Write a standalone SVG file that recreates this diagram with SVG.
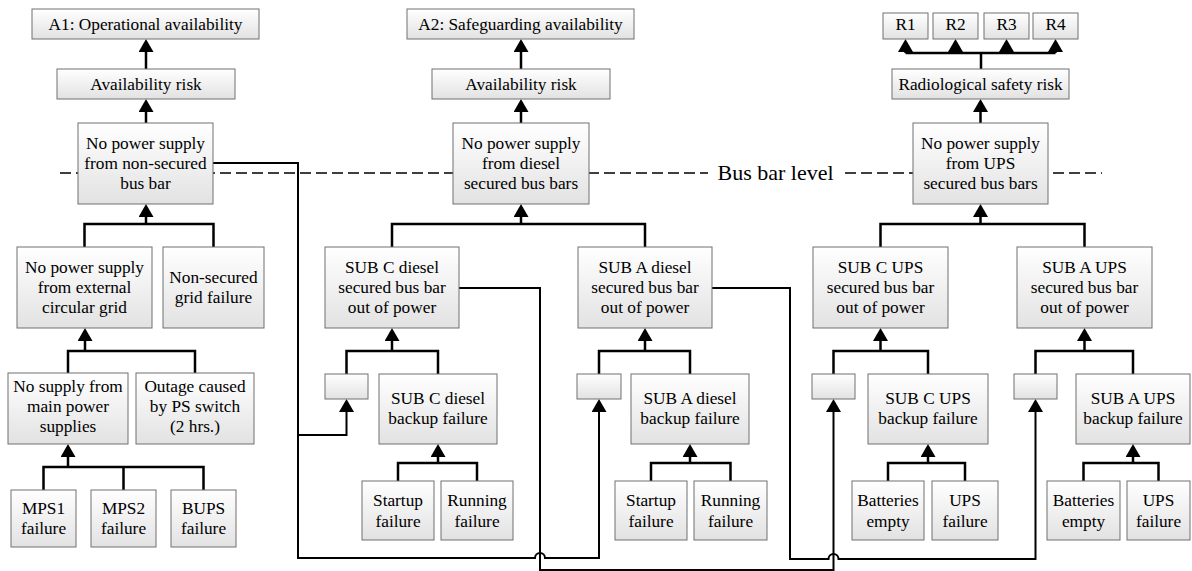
<svg xmlns="http://www.w3.org/2000/svg" width="1192" height="571" viewBox="0 0 1192 571">
<style>
.b{fill:url(#g);stroke:#707070;stroke-width:1}
text{font-family:'Liberation Serif','Times New Roman',serif;font-size:17.3px;fill:#000;text-anchor:middle}
.t{fill:none;stroke:#000;stroke-width:2.5}
.a{fill:none;stroke:#000;stroke-width:2.5;marker-end:url(#arr)}
.ar{fill:none;stroke:#000;stroke-width:2;marker-end:url(#arr)}
.d{fill:none;stroke:#000;stroke-width:1.5;stroke-dasharray:11 5}
</style>
<defs>
<linearGradient id="g" x1="0" y1="0" x2="0" y2="1">
<stop offset="0" stop-color="#ffffff"/>
<stop offset="1" stop-color="#e2e2e2"/>
</linearGradient>
<marker id="arr" viewBox="0 0 13 15" refX="7" refY="7.5" markerWidth="13" markerHeight="15" markerUnits="userSpaceOnUse" orient="auto">
<path d="M0,0L13,7.5L0,15z" fill="#000"/>
</marker>
</defs>
<rect width="1192" height="571" fill="#fff"/>
<g id="buslevel">
<path class="d" d="M60,173H708M845,173H1102"/>
<text x="775.5" y="180" style="font-size:22px">Bus bar level</text>
</g>
<g id="connectors">
<path class="a" d="M146,69V45"/>
<path class="a" d="M146,123V105"/>
<path class="t" d="M84.5,247V224H213.5V247"/>
<path class="a" d="M146,224V210"/>
<path class="t" d="M68,373V351H195V373"/>
<path class="a" d="M85,351V334"/>
<path class="t" d="M43.5,490V467H203.5V490M123.5,467V490"/>
<path class="a" d="M68,467V450"/>
<path class="a" d="M521,69V45"/>
<path class="a" d="M521,123V105"/>
<path class="t" d="M392,247V224H645V247"/>
<path class="a" d="M521,224V210"/>
<path class="t" d="M346.5,374V351H438V374"/>
<path class="a" d="M392,351V334"/>
<path class="t" d="M398,481V463H477V481"/>
<path class="a" d="M438,463V450"/>
<path class="t" d="M599,374V351H690V374"/>
<path class="a" d="M645,351V334"/>
<path class="t" d="M651,481V463H730.5V481"/>
<path class="a" d="M690,463V450"/>
<path class="t" d="M981,69V53M905.5,53H1055.5"/>
<path class="a" d="M905.5,53V45"/>
<path class="a" d="M955.5,53V45"/>
<path class="a" d="M1006.5,53V45"/>
<path class="a" d="M1055.5,53V45"/>
<path class="a" d="M980.5,123V105"/>
<path class="t" d="M880.5,247V224H1084.5V247"/>
<path class="a" d="M980.5,224V210"/>
<path class="t" d="M833.5,374V351H928V374"/>
<path class="a" d="M880.5,351V334"/>
<path class="t" d="M888,481V463H965V481"/>
<path class="a" d="M928,463V450"/>
<path class="t" d="M1035.5,374V351H1133V374"/>
<path class="a" d="M1084.5,351V334"/>
<path class="t" d="M1083.5,481V463H1158.5V481"/>
<path class="a" d="M1133,463V450"/>
<path class="ar" d="M213,163H298V558H535A5,5 0 0 1 545,558H599V405"/>
<path class="ar" d="M298,435H346.5V405"/>
<path class="ar" d="M459,288H540V570H833.5V405"/>
<path class="ar" d="M712,288H790V559H828.5A5,5 0 0 1 838.5,559H1035.5V405"/>
</g>
<g id="n_A1"><rect class="b" x="32" y="9" width="227" height="30"/><text x="145.5" y="29.5">A1: Operational availability</text></g>
<g id="n_AR1"><rect class="b" x="57" y="69" width="178" height="30"/><text x="146" y="89.5">Availability risk</text></g>
<g id="n_NPS1"><rect class="b" x="78" y="123" width="135" height="81"/><text x="145.5" y="149">No power supply</text><text x="145.5" y="169">from non-secured</text><text x="145.5" y="189">bus bar</text></g>
<g id="n_EXT"><rect class="b" x="17" y="247" width="135" height="81"/><text x="84.5" y="272.5">No power supply</text><text x="84.5" y="292.5">from external</text><text x="84.5" y="312.5">circular grid</text></g>
<g id="n_NSG"><rect class="b" x="163" y="247" width="101" height="81"/><text x="213.5" y="282.5">Non-secured</text><text x="213.5" y="302.5">grid failure</text></g>
<g id="n_MAIN"><rect class="b" x="8" y="373" width="120" height="71"/><text x="68" y="391.5">No supply from</text><text x="68" y="411.5">main power</text><text x="68" y="431.5">supplies</text></g>
<g id="n_OUT"><rect class="b" x="136" y="373" width="118" height="71"/><text x="195" y="391.5">Outage caused</text><text x="195" y="411.5">by PS switch</text><text x="195" y="431.5">(2 hrs.)</text></g>
<g id="n_MPS1"><rect class="b" x="11" y="490" width="65" height="57"/><text x="43.5" y="513.5">MPS1</text><text x="43.5" y="534">failure</text></g>
<g id="n_MPS2"><rect class="b" x="91" y="490" width="65" height="57"/><text x="123.5" y="513.5">MPS2</text><text x="123.5" y="534">failure</text></g>
<g id="n_BUPS"><rect class="b" x="171" y="490" width="65" height="57"/><text x="203.5" y="513.5">BUPS</text><text x="203.5" y="534">failure</text></g>
<g id="n_A2"><rect class="b" x="407" y="9" width="227" height="30"/><text x="520.5" y="29.5">A2: Safeguarding availability</text></g>
<g id="n_AR2"><rect class="b" x="432" y="69" width="178" height="30"/><text x="521" y="89.5">Availability risk</text></g>
<g id="n_NPS2"><rect class="b" x="453" y="123" width="136" height="81"/><text x="521" y="149">No power supply</text><text x="521" y="169">from diesel</text><text x="521" y="189">secured bus bars</text></g>
<g id="n_SCD"><rect class="b" x="325" y="247" width="134" height="81"/><text x="392" y="272.5">SUB C diesel</text><text x="392" y="292.5">secured bus bar</text><text x="392" y="312.5">out of power</text></g>
<g id="n_SAD"><rect class="b" x="578" y="247" width="134" height="81"/><text x="645" y="272.5">SUB A diesel</text><text x="645" y="292.5">secured bus bar</text><text x="645" y="312.5">out of power</text></g>
<g id="n_SCD_e"><rect class="b" x="325" y="374" width="43" height="25"/></g>
<g id="n_SCDB"><rect class="b" x="379" y="374" width="118" height="70"/><text x="438" y="403.5">SUB C diesel</text><text x="438" y="424">backup failure</text></g>
<g id="n_SCD_st"><rect class="b" x="362" y="481" width="72" height="59"/><text x="398" y="506">Startup</text><text x="398" y="526.5">failure</text></g>
<g id="n_SCD_rn"><rect class="b" x="441" y="481" width="72" height="59"/><text x="477" y="506">Running</text><text x="477" y="526.5">failure</text></g>
<g id="n_SAD_e"><rect class="b" x="577" y="374" width="44" height="25"/></g>
<g id="n_SADB"><rect class="b" x="631" y="374" width="118" height="70"/><text x="690" y="403.5">SUB A diesel</text><text x="690" y="424">backup failure</text></g>
<g id="n_SAD_st"><rect class="b" x="615" y="481" width="72" height="59"/><text x="651" y="506">Startup</text><text x="651" y="526.5">failure</text></g>
<g id="n_SAD_rn"><rect class="b" x="694" y="481" width="73" height="59"/><text x="730.5" y="506">Running</text><text x="730.5" y="526.5">failure</text></g>
<g id="n_R1"><rect class="b" x="883" y="13" width="45" height="26"/><text x="905.5" y="30">R1</text></g>
<g id="n_R2"><rect class="b" x="933" y="13" width="45" height="26"/><text x="955.5" y="30">R2</text></g>
<g id="n_R3"><rect class="b" x="984" y="13" width="45" height="26"/><text x="1006.5" y="30">R3</text></g>
<g id="n_R4"><rect class="b" x="1033" y="13" width="45" height="26"/><text x="1055.5" y="30">R4</text></g>
<g id="n_RSR"><rect class="b" x="892" y="69" width="177" height="30"/><text x="980.5" y="89.5">Radiological safety risk</text></g>
<g id="n_NPS3"><rect class="b" x="913" y="123" width="135" height="81"/><text x="980.5" y="149">No power supply</text><text x="980.5" y="169">from UPS</text><text x="980.5" y="189">secured bus bars</text></g>
<g id="n_SCU"><rect class="b" x="813" y="247" width="135" height="81"/><text x="880.5" y="272.5">SUB C UPS</text><text x="880.5" y="292.5">secured bus bar</text><text x="880.5" y="312.5">out of power</text></g>
<g id="n_SAU"><rect class="b" x="1017" y="247" width="135" height="81"/><text x="1084.5" y="272.5">SUB A UPS</text><text x="1084.5" y="292.5">secured bus bar</text><text x="1084.5" y="312.5">out of power</text></g>
<g id="n_SCU_e"><rect class="b" x="812" y="374" width="43" height="25"/></g>
<g id="n_SCUB"><rect class="b" x="868" y="374" width="120" height="70"/><text x="928" y="403.5">SUB C UPS</text><text x="928" y="424">backup failure</text></g>
<g id="n_SCU_b"><rect class="b" x="852" y="481" width="72" height="59"/><text x="888" y="506">Batteries</text><text x="888" y="526.5">empty</text></g>
<g id="n_SCU_f"><rect class="b" x="932" y="481" width="66" height="59"/><text x="965" y="506">UPS</text><text x="965" y="526.5">failure</text></g>
<g id="n_SAU_e"><rect class="b" x="1014" y="374" width="43" height="25"/></g>
<g id="n_SAUB"><rect class="b" x="1076" y="374" width="114" height="70"/><text x="1133" y="403.5">SUB A UPS</text><text x="1133" y="424">backup failure</text></g>
<g id="n_SAU_b"><rect class="b" x="1047" y="481" width="73" height="59"/><text x="1083.5" y="506">Batteries</text><text x="1083.5" y="526.5">empty</text></g>
<g id="n_SAU_f"><rect class="b" x="1127" y="481" width="63" height="59"/><text x="1158.5" y="506">UPS</text><text x="1158.5" y="526.5">failure</text></g>
</svg>
